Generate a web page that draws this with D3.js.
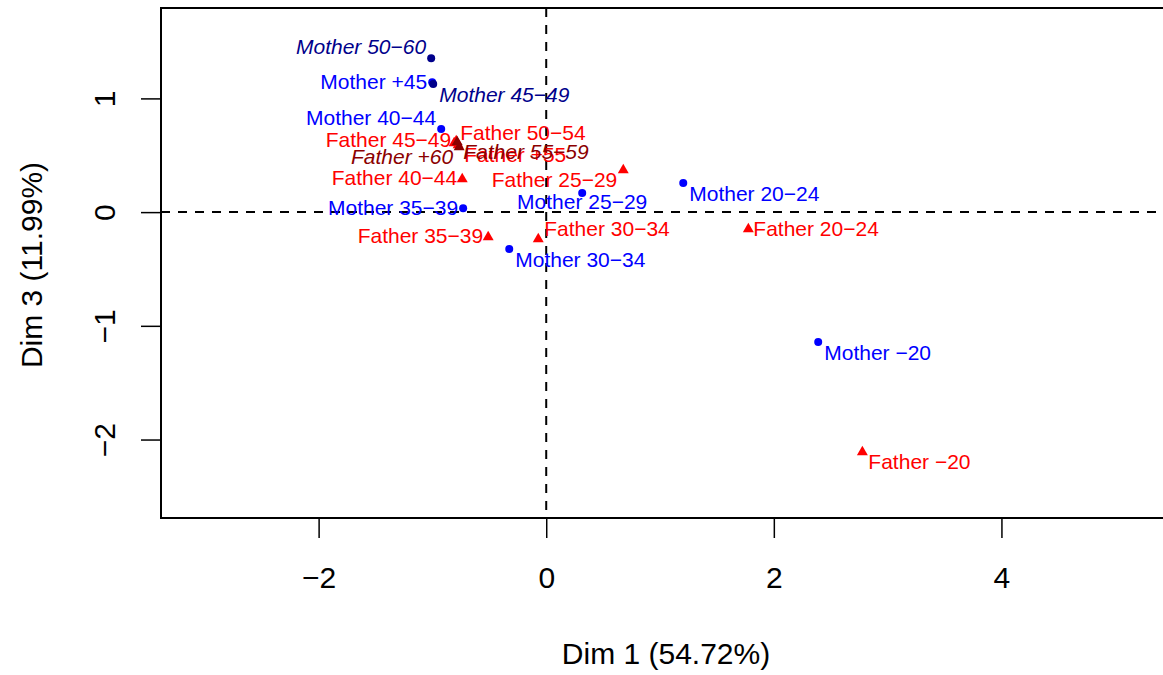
<!DOCTYPE html>
<html>
<head>
<meta charset="utf-8">
<script src="https://cdn.jsdelivr.net/npm/d3@7"></script>
<style>
  html, body { margin: 0; padding: 0; background: #fff; }
  svg { display: block; font-family: "Liberation Sans", Arial, Helvetica, sans-serif; }
</style>
</head>
<body>
<div id="chart"></div>
<script>
// categories (active rows first, supplementary rows after, as R draws them)
const names = [
  'Mother \u221220', 'Mother 20\u221224', 'Mother 25\u221229', 'Mother 30\u221234',
  'Mother 35\u221239', 'Mother 40\u221244', 'Mother +45',
  'Father \u221220', 'Father 20\u221224', 'Father 25\u221229', 'Father 30\u221234',
  'Father 35\u221239', 'Father 40\u221244', 'Father 45\u221249', 'Father 50\u221254', 'Father +55',
  'Mother 45\u221249', 'Mother 50\u221260', 'Father 55\u221259', 'Father +60'
];
const parent = [
  'M', 'M', 'M', 'M', 'M', 'M', 'M',
  'F', 'F', 'F', 'F', 'F', 'F', 'F', 'F', 'F',
  'M', 'M', 'F', 'F'
];
const supplementary = [
  false, false, false, false, false, false, false,
  false, false, false, false, false, false, false, false, false,
  true, true, true, true
];
const dim1 = [
  2.39, 1.204, 0.316, -0.325, -0.73, -0.923, -1.002,
  2.778, 1.776, 0.677, -0.07, -0.51, -0.738, -0.791, -0.809, -0.774,
  -0.993, -1.011, -0.782, -0.765
];
const dim3 = [
  -1.143, 0.255, 0.167, -0.325, 0.035, 0.73, 1.143,
  -2.102, -0.141, 0.378, -0.229, -0.211, 0.30, 0.633, 0.616, 0.598,
  1.126, 1.354, 0.624, 0.58
];
// side of the point where each label sits
const labelSide = [
  'se', 'se', 's', 'se', 'w', 'nw', 'w',
  'se', 'e', 'sw', 'ne', 'w', 'w', 'w', 'ne', 'se',
  'se', 'nw', 'se', 'sw'
];
const xTicks = [-2, 0, 2, 4];
const yTicks = [-2, -1, 0, 1];
const xTitle = 'Dim 1 (54.72%)';
const yTitle = 'Dim 3 (11.99%)';

const W = 1163, H = 675;
const plot = { left: 161, top: 8, right: 1171, bottom: 518 };

const svg = d3.select('#chart').append('svg').attr('width', W).attr('height', H);

const x = d3.scaleLinear().domain([-3.385, 5.49]).range([plot.left, plot.right]);
const y = d3.scaleLinear().domain([-2.69, 1.795]).range([plot.bottom, plot.top]);

const fmt = (v) => (v < 0 ? '\u2212' + Math.abs(v) : String(v));

// x axis
const gx = svg.append('g').attr('transform', `translate(0,${plot.bottom})`)
  .call(d3.axisBottom(x).tickValues(xTicks).tickSize(20).tickFormat(fmt));
gx.select('.domain').remove();
gx.selectAll('line').attr('stroke', '#000').attr('stroke-width', 1.5);
gx.selectAll('text').attr('font-size', 30).attr('fill', '#000').attr('dy', 0).attr('y', 70);

// y axis (rotated tick labels like R)
const gy = svg.append('g').attr('transform', `translate(${plot.left},0)`)
  .call(d3.axisLeft(y).tickValues(yTicks).tickSize(20).tickFormat(fmt));
gy.select('.domain').remove();
gy.selectAll('line').attr('stroke', '#000').attr('stroke-width', 1.5);
gy.selectAll('text')
  .attr('font-size', 30).attr('fill', '#000')
  .attr('x', null).attr('dy', null)
  .attr('text-anchor', 'middle')
  .attr('transform', 'translate(-46,0) rotate(-90)');

// reference lines at 0
const dash = '9,8';
svg.append('line')
  .attr('x1', x(0)).attr('x2', x(0)).attr('y1', plot.top).attr('y2', plot.bottom)
  .attr('stroke', '#000').attr('stroke-width', 2).attr('stroke-dasharray', dash);
svg.append('line')
  .attr('x1', plot.left).attr('x2', plot.right).attr('y1', y(0)).attr('y2', y(0))
  .attr('stroke', '#000').attr('stroke-width', 2).attr('stroke-dasharray', dash);

// box
svg.append('rect')
  .attr('x', plot.left).attr('y', plot.top)
  .attr('width', plot.right - plot.left).attr('height', plot.bottom - plot.top)
  .attr('fill', 'none').attr('stroke', '#000').attr('stroke-width', 2);

// titles
svg.append('text').attr('x', 666).attr('y', 664).attr('text-anchor', 'middle')
  .attr('font-size', 30).text(xTitle);
svg.append('text').attr('transform', 'translate(42,265) rotate(-90)')
  .attr('text-anchor', 'middle').attr('font-size', 30).text(yTitle);

// points + labels
const colour = (i) => {
  if (parent[i] === 'M') return supplementary[i] ? '#00008B' : '#0000FF';
  return supplementary[i] ? '#8B0000' : '#FF0000';
};
const nudge = {
  w: [-5, 1, 'end'], e: [5, 2, 'start'],
  nw: [-5, -10, 'end'], ne: [6, -8, 'start'],
  sw: [-6, 12, 'end'], se: [6, 12, 'start'],
  s: [0, 10, 'middle']
};
const idx = d3.range(names.length);
const tri = d3.symbol().type(d3.symbolTriangle).size(52);

const pts = svg.append('g');
idx.forEach((i) => {
  const px = x(dim1[i]), py = y(dim3[i]);
  if (parent[i] === 'M') {
    pts.append('circle').attr('cx', px).attr('cy', py).attr('r', 4).attr('fill', colour(i));
  } else {
    pts.append('path').attr('d', tri).attr('transform', `translate(${px},${py + 1})`)
      .attr('fill', colour(i));
  }
});

const labs = svg.append('g').attr('font-size', 21);
idx.forEach((i) => {
  const [dx, dy, anchor] = nudge[labelSide[i]];
  labs.append('text')
    .attr('x', x(dim1[i]) + dx)
    .attr('y', y(dim3[i]) + dy)
    .attr('dy', '0.28em')
    .attr('text-anchor', anchor)
    .attr('font-style', supplementary[i] ? 'italic' : 'normal')
    .attr('fill', colour(i))
    .text(names[i]);
});
</script>
</body>
</html>
